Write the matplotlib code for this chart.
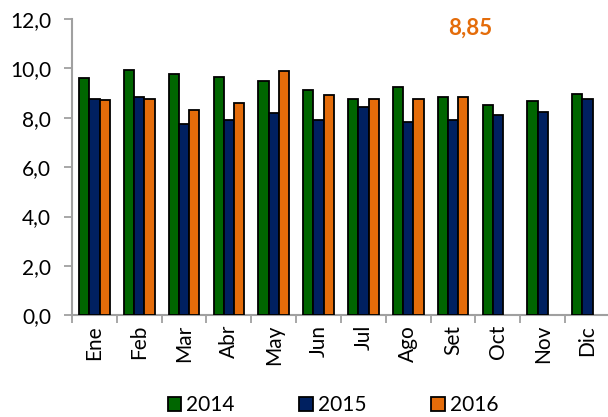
import matplotlib
matplotlib.use("Agg")
import matplotlib.pyplot as plt
import numpy as np
from matplotlib.patches import Patch

months = ["Ene", "Feb", "Mar", "Abr", "May", "Jun", "Jul", "Ago", "Set", "Oct", "Nov", "Dic"]
v2014 = [9.63, 9.93, 9.78, 9.66, 9.50, 9.12, 8.78, 9.25, 8.84, 8.50, 8.67, 8.96]
v2015 = [8.75, 8.84, 7.73, 7.92, 8.21, 7.92, 8.43, 7.81, 7.92, 8.12, 8.25, 8.77]
v2016 = [8.73, 8.77, 8.33, 8.59, 9.89, 8.93, 8.74, 8.77, 8.86]
series_names = ["2014", "2015", "2016"]
colors = ["#006600", "#002060", "#E46C0A"]
annotation = "8,85"
yticks = [0, 2, 4, 6, 8, 10, 12]

plt.rcParams['font.family'] = ['Lato', 'DejaVu Sans']

fig = plt.figure(figsize=(6.08, 4.17), dpi=100)
ax = fig.add_axes([72/608, 1-315.3/417, 538/608, (315.3-19)/417])

w = 0.228
x = np.arange(len(months))
for i, (vals, c) in enumerate(zip([v2014, v2015, v2016], colors)):
    xs = x[:len(vals)] + (i - 1) * w
    ax.bar(xs, vals, width=w, color=c, edgecolor="black", linewidth=1.3, zorder=3)

ax.set_xlim(-0.5, len(months) - 0.5)
ax.set_ylim(0, 12)
ax.set_yticks(yticks)
ax.set_yticklabels([f"{t:.1f}".replace(".", ",") for t in yticks], fontsize=15)

ax.set_xticks(np.arange(len(months) + 1) - 0.5)
ax.set_xticklabels([])
ax.set_xticks(x, minor=True)
ax.set_xticklabels(months, minor=True, rotation=90, fontsize=15)
ax.tick_params(axis='x', which='minor', length=0, pad=7)
ax.tick_params(axis='x', which='major', length=6, width=1.3, color="#A0A0A0", direction='out')
ax.tick_params(axis='y', length=6, width=1.3, color="#A0A0A0", direction='out', pad=9)

for s in ["top", "right"]:
    ax.spines[s].set_visible(False)
for s in ["left", "bottom"]:
    ax.spines[s].set_color("#A0A0A0")
    ax.spines[s].set_linewidth(1.5)

fig.text(470/608, 1-28/417, annotation, color="#E46C0A", fontsize=16, fontweight="bold",
         ha="center", va="center")

handles = [Patch(facecolor=c, edgecolor="black", linewidth=1.3) for c in colors]
fig.legend(handles, series_names, loc="center", bbox_to_anchor=(333/608, 1-405/417),
           ncol=3, frameon=False, fontsize=15, handlelength=0.65, handleheight=0.65,
           handletextpad=0.25, columnspacing=3.1)

fig.savefig("out.png", dpi=100)
